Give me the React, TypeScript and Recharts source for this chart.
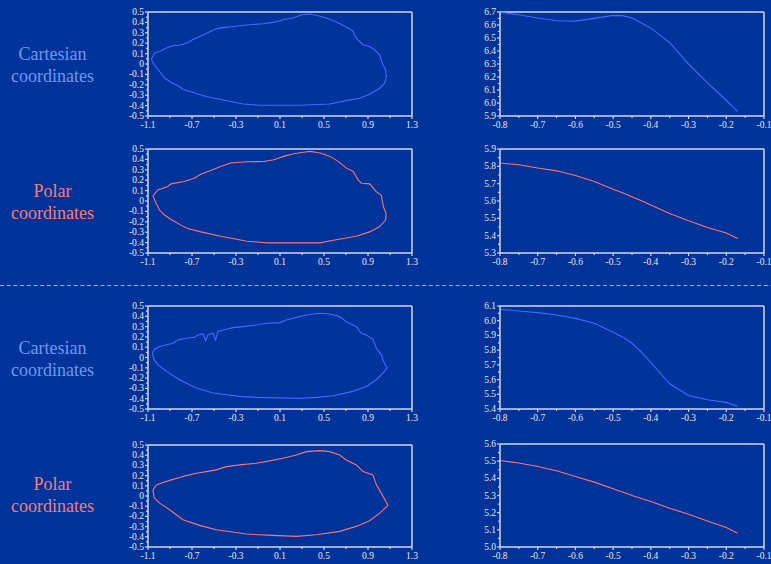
import { LineChart, Line, XAxis, YAxis, ReferenceLine } from "recharts";

const BG = "#003399";
const AXIS = "#d3d9ea";
const TICK_TXT = "#e6e8f2";
const CART = "#3d6bff";
const POLAR = "#ff7272";
const SERIF = '"Times New Roman", Times, "Liberation Serif", "DejaVu Serif", serif';

// closed outlines, [x, y]
const cartesianShapeA: [number, number][] = [
  [-1.07, 0.047], [-1.04, 0.105], [-0.994, 0.12], [-0.96, 0.14], [-0.933, 0.153], [-0.873, 0.175],
  [-0.82, 0.18], [-0.782, 0.19], [-0.736, 0.207], [-0.7, 0.23], [-0.66, 0.25], [-0.6, 0.28],
  [-0.54, 0.31], [-0.5, 0.33], [-0.45, 0.345], [-0.38, 0.355], [-0.327, 0.36], [-0.25, 0.37],
  [-0.176, 0.378], [-0.055, 0.387], [0.036, 0.4], [0.1, 0.415], [0.127, 0.426], [0.218, 0.442],
  [0.26, 0.46], [0.294, 0.474], [0.37, 0.48], [0.43, 0.468], [0.48, 0.455], [0.52, 0.442],
  [0.597, 0.41], [0.65, 0.385], [0.688, 0.362], [0.73, 0.34], [0.764, 0.313], [0.78, 0.27],
  [0.809, 0.233], [0.855, 0.185], [0.915, 0.169], [0.96, 0.137], [1.006, 0.088], [1.02, 0.04],
  [1.036, -0.008], [1.06, -0.056], [1.067, -0.12], [1.052, -0.185], [1.006, -0.233],
  [0.915, -0.291], [0.824, -0.33], [0.703, -0.352], [0.552, -0.384], [0.279, -0.397],
  [-0.085, -0.397], [-0.236, -0.384], [-0.418, -0.346], [-0.57, -0.313], [-0.69, -0.275],
  [-0.782, -0.243], [-0.827, -0.21], [-0.888, -0.178], [-0.948, -0.137], [-0.994, -0.072],
  [-1.03, -0.024], [-1.055, 0.014],
];

const polarShapeA: [number, number][] = [
  [-1.055, 0.048], [-1.01, 0.106], [-0.92, 0.139], [-0.89, 0.165], [-0.77, 0.187], [-0.68, 0.219],
  [-0.62, 0.258], [-0.53, 0.294], [-0.44, 0.332], [-0.35, 0.365], [-0.198, 0.377], [-0.047, 0.38],
  [0.043, 0.397], [0.133, 0.429], [0.223, 0.455], [0.314, 0.468], [0.374, 0.477], [0.464, 0.461],
  [0.554, 0.429], [0.629, 0.381], [0.704, 0.316], [0.765, 0.284], [0.81, 0.203], [0.84, 0.171],
  [0.915, 0.165], [0.975, 0.09], [1.02, 0.058], [1.04, -0.055], [1.065, -0.12], [1.06, -0.184],
  [1.005, -0.248], [0.915, -0.297], [0.795, -0.339], [0.584, -0.377], [0.464, -0.403],
  [-0.017, -0.403], [-0.198, -0.387], [-0.44, -0.339], [-0.62, -0.297], [-0.74, -0.265],
  [-0.8, -0.232], [-0.89, -0.177], [-0.95, -0.135], [-0.995, -0.087], [-1.025, -0.023],
  [-1.046, 0.026],
];

const cartesianShapeB: [number, number][] = [
  [-1.06, 0.042], [-1.04, 0.081], [-0.994, 0.106], [-0.933, 0.123], [-0.873, 0.139], [-0.827, 0.171],
  [-0.752, 0.187], [-0.676, 0.197], [-0.645, 0.219], [-0.6, 0.229], [-0.576, 0.165], [-0.555, 0.219],
  [-0.509, 0.235], [-0.485, 0.171], [-0.464, 0.252], [-0.388, 0.274], [-0.327, 0.29], [-0.236, 0.3],
  [-0.115, 0.316], [-0.024, 0.332], [0.097, 0.339], [0.158, 0.365], [0.279, 0.397], [0.339, 0.413],
  [0.46, 0.429], [0.552, 0.423], [0.642, 0.397], [0.703, 0.348], [0.794, 0.3], [0.839, 0.235],
  [0.885, 0.219], [0.945, 0.177], [0.976, 0.09], [1.021, 0.026], [1.042, -0.039], [1.073, -0.103],
  [1.036, -0.152], [0.976, -0.216], [0.885, -0.281], [0.764, -0.329], [0.582, -0.371],
  [0.43, -0.387], [0.279, -0.397], [0.158, -0.394], [-0.115, -0.387], [-0.267, -0.377],
  [-0.509, -0.345], [-0.661, -0.297], [-0.812, -0.216], [-0.933, -0.135], [-1.009, -0.071],
  [-1.048, -0.016],
];

const polarShapeB: [number, number][] = [
  [-1.055, 0.06], [-1.024, 0.109], [-0.964, 0.132], [-0.888, 0.158], [-0.812, 0.181], [-0.752, 0.2],
  [-0.661, 0.223], [-0.57, 0.239], [-0.479, 0.256], [-0.388, 0.288], [-0.267, 0.305], [-0.115, 0.321],
  [0.006, 0.344], [0.127, 0.37], [0.248, 0.402], [0.339, 0.435], [0.46, 0.445], [0.552, 0.435],
  [0.642, 0.402], [0.703, 0.353], [0.794, 0.305], [0.855, 0.239], [0.945, 0.207], [0.976, 0.109],
  [1.021, 0.028], [1.082, -0.093], [1.006, -0.168], [0.915, -0.243], [0.794, -0.298],
  [0.642, -0.347], [0.43, -0.38], [0.248, -0.396], [0.036, -0.386], [-0.206, -0.373],
  [-0.479, -0.331], [-0.63, -0.288], [-0.782, -0.233], [-0.903, -0.135], [-0.994, -0.07],
  [-1.045, -0.015],
];

// profiles sampled along x
const profileX = [-0.8, -0.75, -0.7, -0.65, -0.6, -0.55, -0.5, -0.475, -0.45, -0.425, -0.4, -0.35, -0.3, -0.25, -0.2, -0.17];
const cartesianProfileA = [6.697, 6.679, 6.654, 6.633, 6.63, 6.651, 6.674, 6.672, 6.654, 6.615, 6.576, 6.465, 6.3, 6.155, 6.021, 5.936];
const polarProfileA = [5.819, 5.809, 5.79, 5.774, 5.747, 5.712, 5.668, 5.648, 5.625, 5.602, 5.577, 5.528, 5.486, 5.447, 5.416, 5.383];
const cartesianProfileB = [6.077, 6.066, 6.055, 6.039, 6.016, 5.983, 5.922, 5.89, 5.847, 5.786, 5.716, 5.571, 5.492, 5.463, 5.445, 5.418];
const polarProfileB = [5.504, 5.489, 5.469, 5.444, 5.411, 5.378, 5.339, 5.32, 5.3, 5.283, 5.265, 5.226, 5.191, 5.152, 5.113, 5.08];

// tick labels
const shapeXTicks = [-1.1, -0.7, -0.3, 0.1, 0.5, 0.9, 1.3];
const shapeYTicks = [-0.5, -0.4, -0.3, -0.2, -0.1, 0, 0.1, 0.2, 0.3, 0.4, 0.5];
const profileXTicks = [-0.8, -0.7, -0.6, -0.5, -0.4, -0.3, -0.2, -0.1];
const profileYTicksA = [5.9, 6.0, 6.1, 6.2, 6.3, 6.4, 6.5, 6.6, 6.7];
const profileYTicksPolarA = [5.3, 5.4, 5.5, 5.6, 5.7, 5.8, 5.9];
const profileYTicksB = [5.4, 5.5, 5.6, 5.7, 5.8, 5.9, 6.0, 6.1];
const profileYTicksPolarB = [5.0, 5.1, 5.2, 5.3, 5.4, 5.5, 5.6];

const midpoints = (t: number[]) => t.slice(1).map((v, i) => (v + t[i]) / 2);
const withMinor = (t: number[]) => [...t, ...midpoints(t)].sort((a, b) => a - b);
const isMajor = (t: number[], v: number) => t.some((m) => Math.abs(m - v) < 1e-9);

const fmtPlain = (v: number) => String(Math.round(v * 10) / 10);
const fmtOne = (v: number) => v.toFixed(1);

const closeLoop = (pts: [number, number][]) => [...pts, pts[0]].map(([x, y]) => ({ x, y }));
const toRows = (ys: number[]) => profileX.map((x, i) => ({ x, y: ys[i] }));

type PanelProps = {
  left: number;
  top: number;
  w: number;
  h: number;
  data: { x: number; y: number }[];
  color: string;
  xTicks: number[];
  yTicks: number[];
  fmtX: (v: number) => string;
  fmtY: (v: number) => string;
};

const tickText = { fontFamily: SERIF, fontSize: 9.5 };

function Panel({ left, top, w, h, data, color, xTicks, yTicks, fmtX, fmtY }: PanelProps) {
  const padL = 45;
  const padT = 8;
  const padR = 14;
  const padB = 18;
  const xDom = [xTicks[0], xTicks[xTicks.length - 1]];
  const yDom = [yTicks[0], yTicks[yTicks.length - 1]];

  const xTick = (p: any) => {
    const major = isMajor(xTicks, p.payload.value);
    return (
      <g>
        <line x1={p.x} x2={p.x} y1={p.y} y2={p.y + (major ? 3 : 2)} stroke={AXIS} strokeWidth={1.2} />
        {major && (
          <text x={p.x} y={p.y + 12} textAnchor="middle" fill={TICK_TXT} style={tickText}>
            {fmtX(p.payload.value)}
          </text>
        )}
      </g>
    );
  };

  const yTick = (p: any) => {
    const major = isMajor(yTicks, p.payload.value);
    return (
      <g>
        <line x1={p.x - (major ? 3 : 2)} x2={p.x} y1={p.y} y2={p.y} stroke={AXIS} strokeWidth={1.2} />
        {major && (
          <text x={p.x - 4} y={p.y + 3} textAnchor="end" fill={TICK_TXT} style={tickText}>
            {fmtY(p.payload.value)}
          </text>
        )}
      </g>
    );
  };

  return (
    <div style={{ position: "absolute", left: left - padL, top: top - padT }}>
      <LineChart
        width={w + padL + padR}
        height={h + padT + padB}
        data={data}
        margin={{ top: padT, right: padR, bottom: 0, left: 0 }}
      >
        <XAxis
          dataKey="x"
          type="number"
          domain={xDom}
          ticks={withMinor(xTicks)}
          interval={0}
          allowDataOverflow
          height={padB}
          tickSize={0}
          tickMargin={0}
          tickLine={false}
          tick={xTick}
          axisLine={{ stroke: AXIS, strokeWidth: 1.5 }}
        />
        <YAxis
          dataKey="y"
          type="number"
          domain={yDom}
          ticks={withMinor(yTicks)}
          interval={0}
          allowDataOverflow
          width={padL}
          tickSize={0}
          tickMargin={0}
          tickLine={false}
          tick={yTick}
          axisLine={{ stroke: AXIS, strokeWidth: 1.5 }}
        />
        <ReferenceLine y={yDom[1]} stroke={AXIS} strokeWidth={1.5} />
        <ReferenceLine x={xDom[1]} stroke={AXIS} strokeWidth={1.5} />
        <Line
          dataKey="y"
          type="linear"
          stroke={color}
          strokeWidth={1.1}
          dot={false}
          activeDot={false}
          isAnimationActive={false}
        />
      </LineChart>
    </div>
  );
}

function SideLabel({ y, first, color }: { y: number; first: string; color: string }) {
  return (
    <text x={52.5} y={y} textAnchor="middle" fill={color} style={{ fontFamily: SERIF, fontSize: 18 }}>
      <tspan x={52.5} y={y}>{first}</tspan>
      <tspan x={52.5} y={y + 22}>coordinates</tspan>
    </text>
  );
}

export default function App() {
  const LX = 148;
  const RX = 500;
  const W = 264;
  return (
    <div
      style={{
        position: "fixed",
        left: 0,
        top: 0,
        width: 771,
        height: 564,
        overflow: "hidden",
        background: BG,
        fontFamily: SERIF,
      }}
    >
      <svg width={771} height={564} style={{ position: "absolute", left: 0, top: 0 }}>
        <line x1={0} x2={771} y1={285.5} y2={285.5} stroke="#a7b1d3" strokeWidth={1} strokeDasharray="4 2.7" />
        <SideLabel y={60} first="Cartesian" color="#6d98f5" />
        <SideLabel y={197} first="Polar" color="#f47c7c" />
        <SideLabel y={354} first="Cartesian" color="#6d98f5" />
        <SideLabel y={490} first="Polar" color="#f47c7c" />
      </svg>

      <Panel left={LX} top={12} w={W} h={104} data={closeLoop(cartesianShapeA)} color={CART}
        xTicks={shapeXTicks} yTicks={shapeYTicks} fmtX={fmtPlain} fmtY={fmtPlain} />
      <Panel left={RX} top={12} w={W} h={104} data={toRows(cartesianProfileA)} color={CART}
        xTicks={profileXTicks} yTicks={profileYTicksA} fmtX={fmtOne} fmtY={fmtOne} />

      <Panel left={LX} top={149} w={W} h={104} data={closeLoop(polarShapeA)} color={POLAR}
        xTicks={shapeXTicks} yTicks={shapeYTicks} fmtX={fmtPlain} fmtY={fmtPlain} />
      <Panel left={RX} top={149} w={W} h={104} data={toRows(polarProfileA)} color={POLAR}
        xTicks={profileXTicks} yTicks={profileYTicksPolarA} fmtX={fmtOne} fmtY={fmtOne} />

      <Panel left={LX} top={306} w={W} h={103} data={closeLoop(cartesianShapeB)} color={CART}
        xTicks={shapeXTicks} yTicks={shapeYTicks} fmtX={fmtPlain} fmtY={fmtPlain} />
      <Panel left={RX} top={306} w={W} h={103} data={toRows(cartesianProfileB)} color={CART}
        xTicks={profileXTicks} yTicks={profileYTicksB} fmtX={fmtOne} fmtY={fmtOne} />

      <Panel left={LX} top={445} w={W} h={102} data={closeLoop(polarShapeB)} color={POLAR}
        xTicks={shapeXTicks} yTicks={shapeYTicks} fmtX={fmtPlain} fmtY={fmtPlain} />
      <Panel left={RX} top={444} w={W} h={103} data={toRows(polarProfileB)} color={POLAR}
        xTicks={profileXTicks} yTicks={profileYTicksPolarB} fmtX={fmtOne} fmtY={fmtOne} />
    </div>
  );
}
